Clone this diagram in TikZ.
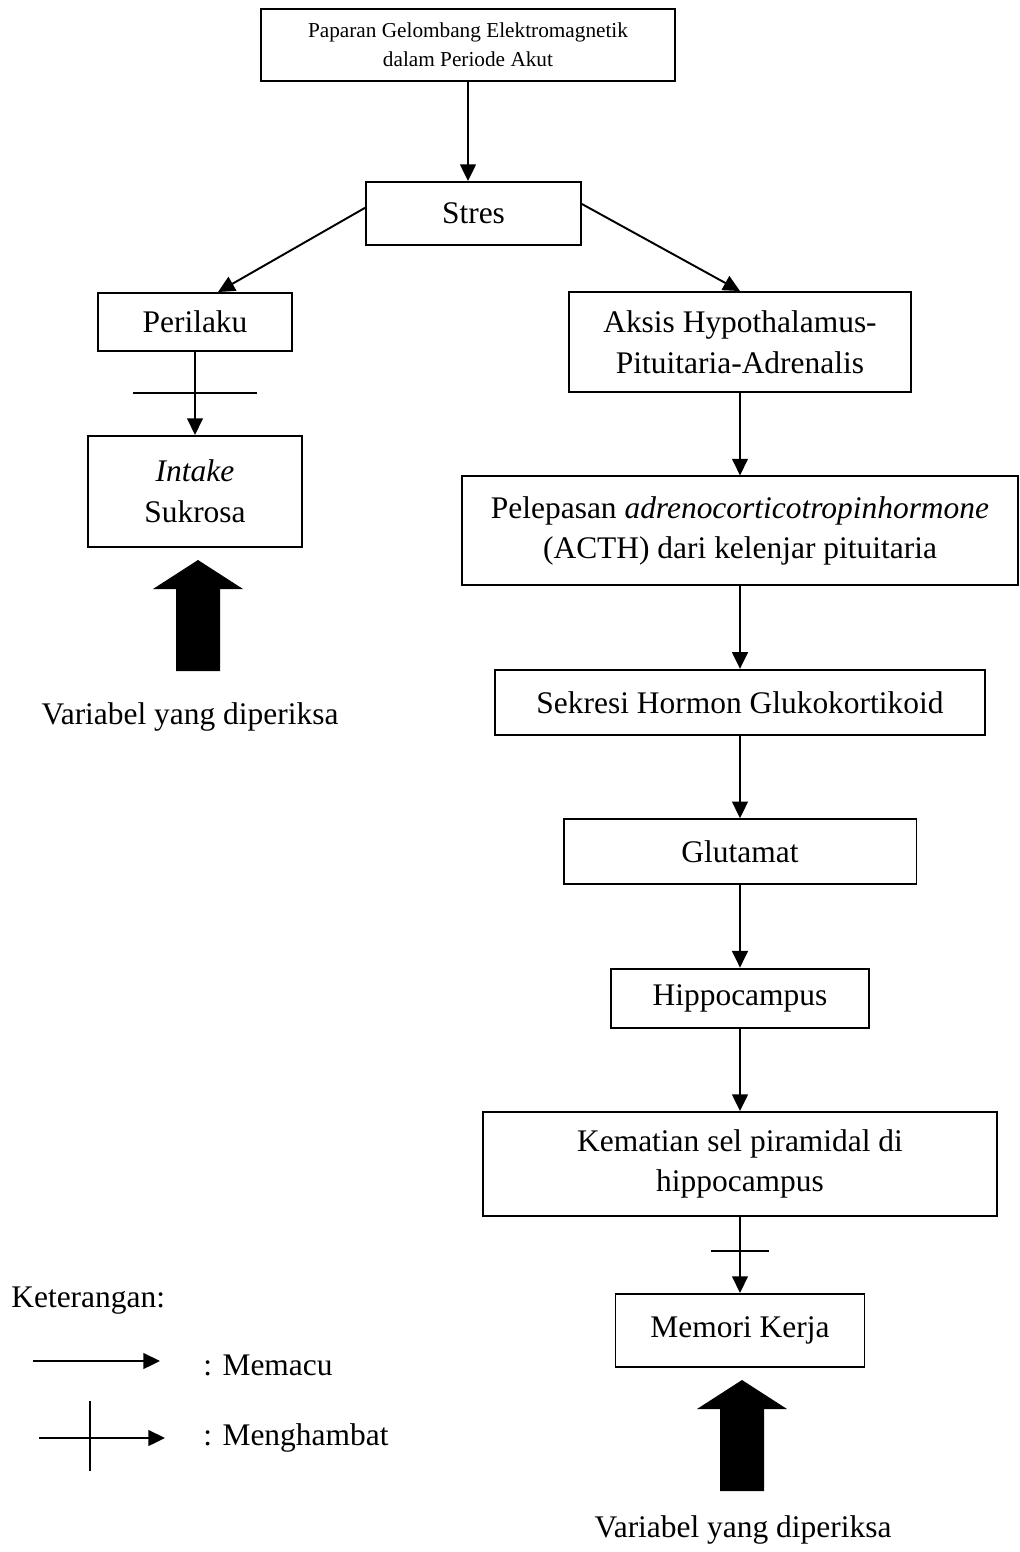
\documentclass[tikz,border=0pt]{standalone}
\usepackage{fontspec}
\setmainfont{Liberation Serif}
\usetikzlibrary{arrows.meta, positioning}

\begin{document}
\begin{tikzpicture}[x=0.02cm, y=-0.02cm, font=\fontsize{17.9}{23.2}\selectfont, node distance=1.65cm,
    kotak/.style={draw, line width=1.1pt, align=center, inner sep=0pt},
    teks/.style={inner sep=0pt},
    panah/.style={-{Triangle[length=9.5pt, width=9pt]}, line width=1.1pt},
    palang/.style={line width=1.1pt}]
    \useasboundingbox (0,0) rectangle (1020,1552);

    \node[kotak, minimum width=8.28cm, minimum height=1.44cm, font=\fontsize{12.1}{16.4}\selectfont] (paparan) at (468,45) {Paparan Gelombang Elektromagnetik\\dalam Periode Akut};
    \node[kotak, minimum width=4.3cm, minimum height=1.26cm] (stres) at (473.5,213.5) {Stres};

    \node[kotak, minimum width=3.88cm, minimum height=1.16cm] (perilaku) at (195,322) {Perilaku};
    \node[kotak, minimum width=4.28cm, minimum height=2.22cm, below=1.66cm of perilaku] (intake) {\textit{Intake}\\Sukrosa};

    \node[kotak, minimum width=6.84cm, minimum height=2cm] (aksis) at (740,342) {Aksis Hypothalamus-\\Pituitaria-Adrenalis};
    \node[kotak, minimum width=11.14cm, minimum height=2.18cm, below=of aksis] (pelepasan) {Pelepasan \textit{adrenocorticotropinhormone}\\(ACTH) dari kelenjar pituitaria};
    \node[kotak, minimum width=9.8cm, minimum height=1.3cm, below=of pelepasan] (sekresi) {Sekresi Hormon Glukokortikoid};
    \node[kotak, minimum width=7.06cm, minimum height=1.3cm, below=of sekresi] (glutamat) {Glutamat};
    \node[kotak, minimum width=5.16cm, minimum height=1.18cm, below=of glutamat] (hippo) {Hippocampus};
    \node[kotak, minimum width=10.28cm, minimum height=2.08cm, below=of hippo] (kematian) {Kematian sel piramidal di\\hippocampus};
    \node[kotak, minimum width=4.98cm, minimum height=1.46cm, below=1.52cm of kematian] (memori) {Memori Kerja};

    \draw[panah] (paparan.south) -- (paparan.south |- stres.north);
    \draw[panah] (stres.177) -- ([xshift=0.46cm]perilaku.north);
    \draw[panah] (stres.5) -- (aksis.north);
    \draw[panah] (perilaku) -- coordinate (hambat1) (intake);
    \draw[palang] ([xshift=-1.24cm]hambat1) -- ([xshift=1.24cm]hambat1);
    \draw[panah] (aksis) -- (pelepasan);
    \draw[panah] (pelepasan) -- (sekresi);
    \draw[panah] (sekresi) -- (glutamat);
    \draw[panah] (glutamat) -- (hippo);
    \draw[panah] (hippo) -- (kematian);
    \draw[panah] (kematian) -- coordinate[pos=0.45] (hambat2) (memori);
    \draw[palang] ([xshift=-0.58cm]hambat2) -- ([xshift=0.58cm]hambat2);

    \foreach \x/\y in {198/560, 742/1380}
        \fill (\x,\y) -- ++(45,29) -- ++(-23,0) -- ++(0,82) -- ++(-44,0) -- ++(0,-82) -- ++(-23,0) -- cycle;
    \node[teks] (varkiri) at (190,717) {Variabel yang diperiksa};
    \node[teks] (varkanan) at (743,1530) {Variabel yang diperiksa};

    \node[teks, anchor=base west] (ket) at (11,1307) {Keterangan:};
    \coordinate (pacu1) at (33,1361);
    \coordinate (pacu2) at (160,1361);
    \draw[panah] (pacu1) -- (pacu2);
    \node[teks, anchor=base west] (memacu) at (203,1375) {: Memacu};
    \coordinate (hambat3) at (39,1438);
    \coordinate (hambat4) at (165,1438);
    \draw[panah] (hambat3) -- (hambat4);
    \draw[palang] ([yshift=0.74cm]hambat3 -| 90,0) -- ([yshift=-0.66cm]hambat3 -| 90,0);
    \node[teks, anchor=base west] (menghambat) at (203,1445) {: Menghambat};
\end{tikzpicture}
\end{document}
